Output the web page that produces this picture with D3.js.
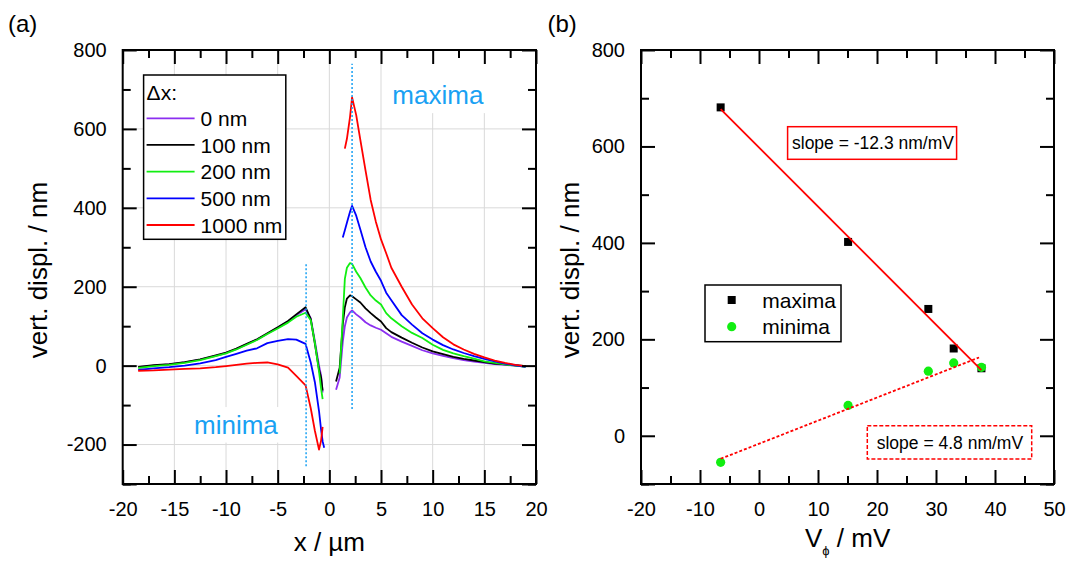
<!DOCTYPE html>
<html><head><meta charset="utf-8">
<script src="https://cdn.jsdelivr.net/npm/d3@7"></script>
<style>
body{margin:0;background:#fff}
svg{display:block}
text{font-family:"Liberation Sans",Arial,sans-serif;fill:#000}
</style>
</head><body>
<svg id="chart" width="1073" height="562"></svg>
<script>
// ---------- DATA ----------
// Panel (a): vertical displacement profiles
const seriesNames = ["0 nm", "100 nm", "200 nm", "500 nm", "1000 nm"];
const xLeft  = [-18.5,-17,-15.5,-14,-12.5,-11,-10,-9,-8,-7,-6,-5,-4,-3.2,-2.3,-1.8,-1.4,-1.0,-0.8,-0.65,-0.5];
const xRight = [0.65,1.0,1.3,1.5,1.7,2.0,2.2,2.6,3.0,3.5,4,4.5,5,5.5,6,7,8,9,10,11,12,13,14,15,16,17,18,19];

const dx0Left    = [-4,0,3,8,15,25,32,42,54,66,81,96,112,128,143,120,62,0,-25,-68,null];
const dx100Left  = [-3,1,4,9,16,26,33,43,55,67,82,97,113,130,148,118,55,-10,-30,-63,null];
const dx200Left  = [-6,-1,2,7,14,24,31,41,53,65,80,94,109,124,134,115,58,-15,-58,-85,null];
const dx500Left  = [-11,-7,-4,0,6,14,22,30,38,44,57,63,67,66,55,8,-42,-115,-162,-192,-208];
const dx1000Left = [-13,-12,-10,-8,-7,-4,-1,2,5,7,8,3,-5,-26,-50,-108,-165,-213,-190,-155,null];

const dx0Right    = [-61,-30,60,100,122,135,140,130,122,110,102,96,91,82,73,61,50,39,31,25,19,14,10,7,4,2,0,-1];
const dx100Right  = [-40,-5,105,148,170,178,176,168,160,145,133,122,112,95,85,71,58,46,36,29,22,17,13,9,5,3,1,-1];
const dx200Right  = [null,-20,120,220,248,260,258,238,222,198,178,165,155,133,120,100,83,70,53,40,31,24,18,11,7,3,0,-3];
const dx500Right  = [null,null,325,343,362,390,405,380,345,300,264,238,215,185,166,128,104,82,66,52,41,32,24,17,11,5,1,-3];
const dx1000Right = [null,null,null,550,575,630,680,635,572,495,420,365,320,285,248,200,155,120,95,72,54,41,30,21,13,7,2,-1];

const markerMaxX = 2.2, markerMinX = -2.25;   // dotted marker positions (µm)
const markerMaxRange = [-110, 765], markerMinRange = [-255, 262];

// Panel (b): extrema vs V_phi
const vPhi   = [-6.5, 15.1, 28.7, 33.0, 37.7];
const maxima = [681, 402, 263, 181, 140];
const minima = [-55, 63, 134, 151, 142];

const xTicksA = [-20,-15,-10,-5,0,5,10,15,20];
const yTicksA = [-200,0,200,400,600,800];
const xTicksB = [-20,-10,0,10,20,30,40,50];
const yTicksB = [0,200,400,600,800];

// ---------- STYLE ----------
const colors = ["#8b2ff0", "#000000", "#11ee11", "#0000ff", "#ff0000"];
const lightBlue = "#19a1f3";
const font = '"Liberation Sans", Arial, sans-serif';

const svg = d3.select("#chart");

function frameAxes(g, x, y, xMajor, xMinor, yMajor, yMinor, W, H, xLabels, yLabels) {
  const tk = (sel) => { sel.select(".domain").remove(); sel.selectAll("line").attr("stroke","#000").attr("stroke-width",2); sel.selectAll("text").style("font-size","20px").style("font-family",font).attr("fill","#000"); };
  g.append("g").attr("transform",`translate(0,${H})`).call(d3.axisBottom(x).tickValues(xMajor).tickSize(-14).tickPadding(18).tickFormat(d => xLabels.includes(d) ? String(d) : "")).call(tk);
  g.append("g").attr("transform",`translate(0,${H})`).call(d3.axisBottom(x).tickValues(xMinor).tickSize(-8).tickFormat("")).call(tk);
  g.append("g").call(d3.axisTop(x).tickValues(xMajor).tickSize(-14).tickFormat("")).call(tk);
  g.append("g").call(d3.axisTop(x).tickValues(xMinor).tickSize(-8).tickFormat("")).call(tk);
  g.append("g").call(d3.axisLeft(y).tickValues(yMajor).tickSize(-14).tickPadding(16).tickFormat(d => yLabels.includes(d) ? String(d) : "")).call(tk);
  g.append("g").call(d3.axisLeft(y).tickValues(yMinor).tickSize(-8).tickFormat("")).call(tk);
  g.append("g").attr("transform",`translate(${W},0)`).call(d3.axisRight(y).tickValues(yMajor).tickSize(-14).tickFormat("")).call(tk);
  g.append("g").attr("transform",`translate(${W},0)`).call(d3.axisRight(y).tickValues(yMinor).tickSize(-8).tickFormat("")).call(tk);
  g.append("rect").attr("width",W).attr("height",H).attr("fill","none").attr("stroke","#000").attr("stroke-width",2);
}

// ================= PANEL (a) =================
const A = {left:122.7, top:50, right:536, bottom:484};
const WA = A.right - A.left, HA = A.bottom - A.top;
const gA = svg.append("g").attr("transform",`translate(${A.left},${A.top})`);
const xA = d3.scaleLinear().domain([-20,20]).range([0,WA]);
const yA = d3.scaleLinear().domain([-300,800]).range([HA,0]);

// grid
gA.append("g").selectAll("line").data([-15,-10,-5,0,5,10,15]).join("line")
  .attr("x1",d=>xA(d)).attr("x2",d=>xA(d)).attr("y1",0).attr("y2",HA)
  .attr("stroke","#d9d9d9").attr("stroke-width",1);
gA.append("g").selectAll("line").data([-200,0,200,400,600]).join("line")
  .attr("y1",d=>yA(d)).attr("y2",d=>yA(d)).attr("x1",0).attr("x2",WA)
  .attr("stroke","#d9d9d9").attr("stroke-width",1);

// white backgrounds behind text labels
gA.append("rect").attr("x",xA(5.6)).attr("y",0).attr("width",xA(16.3)-xA(5.6)).attr("height",yA(640)).attr("fill","#fff");
gA.append("rect").attr("x",xA(-13.6)).attr("y",yA(-105)).attr("width",xA(-3.3)-xA(-13.6)).attr("height",yA(-195)-yA(-105)).attr("fill","#fff");

const lefts = [dx0Left, dx100Left, dx200Left, dx500Left, dx1000Left];
const rights = [dx0Right, dx100Right, dx200Right, dx500Right, dx1000Right];
const line = d3.line().defined(d => d[1] !== null).x(d => xA(d[0])).y(d => yA(d[1]));
seriesNames.forEach((name, i) => {
  const segL = xLeft.map((x, j) => [x, lefts[i][j]]);
  const segR = xRight.map((x, j) => [x, rights[i][j]]);
  [segL, segR].forEach(seg => {
    gA.append("path").datum(seg).attr("d", line).attr("fill","none")
      .attr("stroke", colors[i]).attr("stroke-width",1.8).attr("stroke-linejoin","round");
  });
});

// dotted markers
[[markerMinX, markerMinRange],[markerMaxX, markerMaxRange]].forEach(([mx, r]) => {
  gA.append("line").attr("x1",xA(mx)).attr("x2",xA(mx)).attr("y1",yA(r[0])).attr("y2",yA(r[1]))
    .attr("stroke",lightBlue).attr("stroke-width",1.5).attr("stroke-dasharray","2,2");
});

gA.append("text").attr("x",xA(6.1)).attr("y",yA(662)).text("maxima").style("font-size","26px").style("fill",lightBlue);
gA.append("text").attr("x",xA(-13.1)).attr("y",yA(-174)).text("minima").style("font-size","26px").style("fill",lightBlue);

// legend (a)
const legA = gA.append("g").attr("transform",`translate(${143.6-A.left},${75-A.top})`);
legA.append("rect").attr("width",142.2).attr("height",164.3).attr("fill","#fff").attr("stroke","#000").attr("stroke-width",1.5);
legA.append("text").attr("x",3).attr("y",25).text("Δx:").style("font-size","21px");
seriesNames.forEach((name, i) => {
  const yy = 43.3 + i*26.67;
  legA.append("line").attr("x1",3).attr("x2",51).attr("y1",yy).attr("y2",yy).attr("stroke",colors[i]).attr("stroke-width",1.8);
  legA.append("text").attr("x",57).attr("y",yy).attr("dy","0.36em").text(name).style("font-size","21px");
});

frameAxes(gA, xA, yA, xTicksA, d3.range(-17.5,20,5), yTicksA.concat([-300]), d3.range(-300,800,100).filter(v=>v%200!==0), WA, HA, xTicksA, yTicksA);

svg.append("text").attr("x",8).attr("y",32).text("(a)").style("font-size","24px");
svg.append("text").attr("transform",`translate(47,270) rotate(-90)`).attr("text-anchor","middle").text("vert. displ. / nm").style("font-size","26px");
svg.append("text").attr("x",A.left+WA/2).attr("y",551).attr("text-anchor","middle").text("x / µm").style("font-size","26px");

// ================= PANEL (b) =================
const B = {left:641, top:50, right:1054, bottom:484};
const WB = B.right - B.left, HB = B.bottom - B.top;
const gB = svg.append("g").attr("transform",`translate(${B.left},${B.top})`);
const xB = d3.scaleLinear().domain([-20,50]).range([0,WB]);
const yB = d3.scaleLinear().domain([-100,800]).range([HB,0]);

function fit(xs, ys) {
  const mx = d3.mean(xs), my = d3.mean(ys);
  const s = d3.sum(xs.map((x,i)=>(x-mx)*(ys[i]-my))) / d3.sum(xs.map(x=>(x-mx)**2));
  return x => my + s*(x-mx);
}
const fMax = fit(vPhi, maxima), fMin = fit(vPhi, minima);
const [v0, v1] = d3.extent(vPhi);

// squares (maxima)
gB.selectAll("rect.max").data(vPhi).join("rect").attr("class","max")
  .attr("x",(d)=>xB(d)-4).attr("y",(d,i)=>yB(maxima[i])-4).attr("width",8).attr("height",8).attr("fill","#000");
// circles (minima)
gB.selectAll("circle.min").data(vPhi).join("circle").attr("class","min")
  .attr("cx",d=>xB(d)).attr("cy",(d,i)=>yB(minima[i])).attr("r",4.6).attr("fill","#11ee11");

gB.append("line").attr("x1",xB(v0)).attr("y1",yB(fMax(v0))).attr("x2",xB(v1)).attr("y2",yB(fMax(v1)))
  .attr("stroke","#ff0000").attr("stroke-width",1.8);
gB.append("line").attr("x1",xB(v0)).attr("y1",yB(fMin(v0))).attr("x2",xB(v1-0.4)).attr("y2",yB(fMin(v1-0.4)))
  .attr("stroke","#ff0000").attr("stroke-width",1.8).attr("stroke-dasharray","3,2");

// annotation boxes
svg.append("rect").attr("x",787.6).attr("y",126.7).attr("width",169).attr("height",32.6).attr("fill","none").attr("stroke","#ff0000").attr("stroke-width",1.5);
svg.append("text").attr("x",792).attr("y",149).text("slope = -12.3 nm/mV").style("font-size","17.5px");
svg.append("rect").attr("x",867.3).attr("y",425.7).attr("width",164.4).attr("height",33.3).attr("fill","none").attr("stroke","#ff0000").attr("stroke-width",1.5).attr("stroke-dasharray","4,2");
svg.append("text").attr("x",876.7).attr("y",448.5).text("slope = 4.8 nm/mV").style("font-size","17.5px");

// legend (b)
const legB = svg.append("g").attr("transform","translate(705,285)");
legB.append("rect").attr("width",136).attr("height",56.7).attr("fill","#fff").attr("stroke","#000").attr("stroke-width",1.5);
legB.append("rect").attr("x",22.7).attr("y",11).attr("width",8).attr("height",8).attr("fill","#000");
legB.append("circle").attr("cx",26.7).attr("cy",41.7).attr("r",4.6).attr("fill","#11ee11");
legB.append("text").attr("x",57.3).attr("y",15).attr("dy","0.36em").text("maxima").style("font-size","21px");
legB.append("text").attr("x",57.3).attr("y",41.7).attr("dy","0.36em").text("minima").style("font-size","21px");

frameAxes(gB, xB, yB, xTicksB, d3.range(-15,50,10), yTicksB.concat([-100]), d3.range(-100,800,100).filter(v=>v%200!==0), WB, HB, xTicksB, yTicksB);

svg.append("text").attr("x",547.5).attr("y",32).text("(b)").style("font-size","24px");
svg.append("text").attr("transform",`translate(579,270) rotate(-90)`).attr("text-anchor","middle").text("vert. displ. / nm").style("font-size","26px");
const xt = svg.append("text").attr("x",805).attr("y",547).style("font-size","26px");
xt.append("tspan").text("V");
xt.append("tspan").text("ϕ").style("font-size","13px").attr("dy",8);
xt.append("tspan").text(" / mV").attr("dy",-8);
</script>
</body></html>
